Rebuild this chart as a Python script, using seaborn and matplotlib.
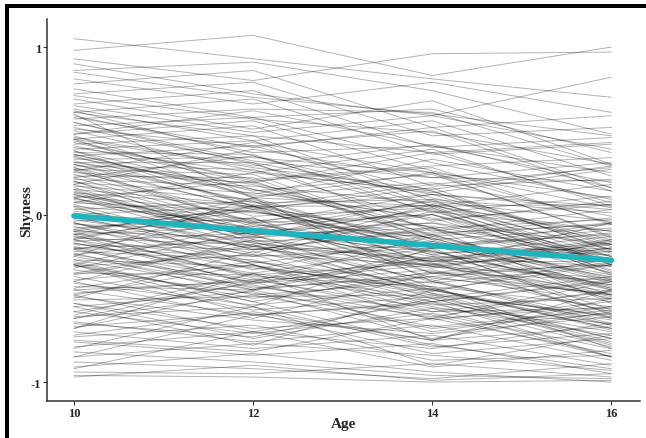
import numpy as np
import pandas as pd
import matplotlib
matplotlib.use("Agg")
import matplotlib.pyplot as plt
from matplotlib.patches import Rectangle
import seaborn as sns

ages = [10, 12, 14, 16]
y_ticks = [-1, 0, 1]
x_ticks = [10, 12, 14, 16]

# Shyness of each participant at age 10, 12, 14, 16 (same index = same person)
s10 = [1.05, 0.98, 0.93, 0.90, 0.86, 0.81, 0.78, 0.75, 0.72, 0.69,
       0.66, 0.63, 0.61, 0.59, 0.57, 0.55, 0.53, 0.51, 0.50, 0.48,
       0.46, 0.45, 0.43, 0.42, 0.41, 0.39, 0.38, 0.37, 0.36, 0.35,
       0.34, 0.33, 0.32, 0.31, 0.30, 0.29, 0.28, 0.27, 0.26, 0.25,
       0.24, 0.23, 0.22, 0.21, 0.20, 0.19, 0.18, 0.17, 0.16, 0.15,
       0.14, 0.13, 0.12, 0.11, 0.10, 0.09, 0.08, 0.07, 0.06, 0.05,
       0.04, 0.03, 0.02, 0.01, 0.00, -0.01, -0.02, -0.03, -0.04, -0.05,
       -0.06, -0.07, -0.08, -0.09, -0.10, -0.11, -0.12, -0.13, -0.14, -0.15,
       -0.16, -0.17, -0.18, -0.19, -0.20, -0.21, -0.22, -0.23, -0.24, -0.25,
       -0.27, -0.29, -0.31, -0.33, -0.35, -0.37, -0.39, -0.41, -0.43, -0.45,
       -0.47, -0.49, -0.51, -0.53, -0.55, -0.58, -0.61, -0.64, -0.67, -0.70,
       -0.73, -0.76, -0.79, -0.82, -0.85, -0.88, -0.91, -0.94, -0.97, -0.96,
       0.52, -0.32, 0.18, -0.58, 0.44, -0.12, 0.27, -0.40, 0.61, -0.21,
       0.07, -0.48, 0.36, -0.65, 0.15, -0.27, 0.48, -0.05, 0.71, -0.36,
       0.22, -0.17, 0.58, -0.44, 0.10, -0.72, 0.31, -0.09, 0.40, -0.53,
       -0.02, 0.26, -0.30, 0.65, -0.14, 0.12, -0.62, 0.45, -0.24, 0.85,
       0.55, 0.38, 0.20, 0.62, 0.05, 0.30, -0.10, 0.47, -0.28, 0.13,
       -0.60, -0.85, -0.40, -0.30, -0.75, -0.15, -0.50, -0.92, -0.20, -0.68,
       -0.05, -0.62, -0.20, -0.48, -0.80, -0.12, -0.35, -0.55, -0.30, -0.15,
       0.35, -0.25, 0.60, 0.10, -0.45, 0.28, -0.10, 0.45, -0.30, -0.68]

s12 = [0.93, 1.07, 0.80, 0.72, 0.91, 0.66, 0.86, 0.58, 0.79, 0.51,
       0.74, 0.44, 0.69, 0.37, 0.63, 0.32, 0.58, 0.41, 0.26, 0.56,
       0.29, 0.53, 0.21, 0.47, 0.19, 0.44, 0.14, 0.36, 0.11, 0.41,
       0.15, 0.34, 0.07, 0.31, 0.03, 0.27, 0.04, 0.24, -0.01, 0.19,
       -0.04, 0.22, -0.07, 0.17, -0.09, 0.13, -0.11, 0.09, -0.14, 0.06,
       -0.12, 0.05, -0.16, 0.01, -0.19, -0.03, -0.08, 0.02, -0.21, -0.05,
       -0.21, 0.08, -0.12, -0.17, 0.05, -0.25, -0.04, -0.19, 0.02, -0.28,
       -0.09, -0.33, -0.02, -0.24, -0.14, -0.37, -0.07, -0.29, -0.18, -0.41,
       -0.11, -0.35, -0.21, -0.44, -0.16, -0.39, -0.27, -0.48, -0.13, -0.43,
       -0.31, -0.52, -0.24, -0.47, -0.36, -0.57, -0.30, -0.54, -0.45, -0.60,
       -0.39, -0.63, -0.49, -0.68, -0.46, -0.71, -0.55, -0.76, -0.59, -0.80,
       -0.66, -0.84, -0.70, -0.88, -0.77, -0.92, -0.83, -0.95, -0.90, -0.97,
       0.31, -0.10, 0.39, -0.41, 0.20, 0.10, -0.06, -0.62, 0.47, -0.02,
       0.25, -0.30, 0.12, -0.73, -0.17, -0.45, 0.62, -0.23, 0.57, -0.19,
       0.35, -0.36, 0.40, -0.28, -0.13, -0.58, 0.18, 0.04, 0.25, -0.74,
       -0.20, 0.43, -0.50, 0.49, 0.03, -0.09, -0.48, 0.28, -0.40, 0.70,
       0.30, 0.05, -0.15, 0.35, -0.30, 0.08, -0.38, 0.15, -0.52, -0.12,
       -0.35, -0.60, -0.15, -0.05, -0.82, 0.05, -0.22, -0.70, -0.25, -0.45,
       -0.30, -0.40, -0.45, -0.70, -0.55, -0.42, -0.18, -0.78, -0.60, -0.32,
       0.05, 0.10, 0.10, 0.20, -0.40, -0.05, 0.05, 0.10, -0.55, -0.35]

s14 = [0.81, 0.83, 0.96, 0.59, 0.74, 0.79, 0.52, 0.63, 0.47, 0.68,
       0.40, 0.56, 0.36, 0.41, 0.61, 0.22, 0.31, 0.50, 0.13, 0.26,
       0.42, 0.17, 0.29, 0.08, 0.37, 0.05, 0.24, 0.01, 0.19, 0.14,
       -0.03, 0.25, 0.09, -0.10, 0.16, -0.04, 0.12, -0.13, 0.04, -0.08,
       0.06, -0.15, 0.00, 0.07, -0.18, -0.02, -0.11, -0.20, -0.05, -0.16,
       -0.08, -0.23, -0.12, -0.07, -0.26, -0.14, -0.28, -0.17, -0.19, -0.31,
       -0.09, -0.24, 0.03, -0.31, -0.14, -0.20, -0.35, 0.00, -0.18, -0.41,
       -0.27, -0.12, -0.38, -0.30, 0.04, -0.43, -0.25, -0.16, -0.46, -0.33,
       -0.22, -0.50, -0.08, -0.37, -0.47, -0.26, -0.54, -0.40, -0.31, -0.58,
       -0.45, -0.34, -0.52, -0.61, -0.29, -0.49, -0.63, -0.44, -0.67, -0.53,
       -0.56, -0.71, -0.48, -0.62, -0.74, -0.59, -0.79, -0.66, -0.83, -0.72,
       -0.87, -0.77, -0.91, -0.96, -0.84, -0.98, -0.94, -0.89, -0.99, -1.00,
       0.12, -0.05, 0.22, -0.27, 0.28, -0.20, -0.19, -0.35, 0.37, -0.44,
       0.14, -0.58, 0.33, -0.50, -0.28, -0.21, 0.41, 0.06, 0.49, -0.39,
       0.05, -0.52, 0.52, -0.47, 0.09, -0.75, -0.12, -0.29, 0.39, -0.56,
       -0.32, 0.25, -0.37, 0.59, -0.24, 0.08, -0.68, 0.15, -0.13, 0.60,
       0.02, -0.22, -0.40, 0.10, -0.55, -0.30, -0.60, -0.08, -0.78, -0.45,
       -0.20, -0.52, -0.28, 0.12, -0.62, 0.18, -0.45, -0.80, 0.02, -0.35,
       -0.48, -0.70, -0.25, -0.52, -0.90, -0.62, -0.50, -0.45, -0.75, -0.43,
       0.05, -0.40, 0.25, -0.15, -0.30, 0.00, -0.35, 0.05, -0.20, -0.75]

s16 = [0.70, 1.00, 0.97, 0.82, 0.48, 0.61, 0.59, 0.37, 0.52, 0.30,
       0.46, 0.23, 0.42, 0.19, 0.29, 0.31, 0.09, 0.14, 0.27, 0.04,
       0.16, 0.21, 0.34, -0.04, 0.07, 0.18, -0.13, 0.11, -0.01, -0.18,
       0.06, -0.14, 0.01, 0.03, -0.22, 0.08, -0.19, -0.05, -0.27, -0.03,
       -0.21, -0.08, -0.29, -0.16, -0.12, -0.33, -0.06, -0.24, -0.18, -0.36,
       -0.31, -0.20, -0.39, -0.25, -0.17, -0.41, -0.28, -0.43, -0.22, -0.46,
       -0.27, -0.13, -0.34, -0.20, -0.44, -0.09, -0.39, -0.25, -0.51, -0.30,
       -0.15, -0.40, -0.47, -0.22, -0.36, -0.55, -0.31, -0.48, -0.26, -0.58,
       -0.44, -0.37, -0.53, -0.29, -0.61, -0.42, -0.50, -0.66, -0.38, -0.56,
       -0.63, -0.48, -0.70, -0.45, -0.59, -0.74, -0.52, -0.68, -0.57, -0.79,
       -0.65, -0.61, -0.76, -0.83, -0.58, -0.80, -0.71, -0.87, -0.74, -0.90,
       -0.84, -0.95, -0.81, -0.98, -0.93, -0.89, -1.00, -0.97, -0.95, -0.99,
       0.03, -0.27, 0.20, -0.48, -0.06, -0.11, -0.37, -0.30, 0.43, -0.69,
       -0.21, -0.46, 0.14, -0.77, -0.16, -0.57, 0.25, -0.25, 0.30, -0.65,
       0.06, -0.39, 0.16, -0.74, -0.30, -0.67, -0.02, -0.49, 0.05, -0.85,
       -0.17, -0.05, -0.52, 0.39, -0.42, -0.23, -0.59, 0.29, -0.38, 0.47,
       -0.28, -0.45, -0.62, -0.15, -0.72, -0.50, -0.85, -0.35, -0.92, -0.66,
       -0.05, -0.40, -0.18, 0.05, -0.55, 0.28, -0.30, -0.65, -0.10, -0.48,
       -0.60, -0.55, -0.62, -0.85, -0.72, -0.40, -0.78, -0.68, -0.50, -0.80,
       -0.10, -0.15, 0.10, -0.45, -0.05, -0.35, -0.20, -0.30, -0.60, -0.45]

waves = [s10, s12, s14, s16]
n = len(s10)
df = pd.DataFrame({
    "id": np.tile(np.arange(n), len(ages)),
    "Age": np.repeat(ages, n),
    "Shyness": np.concatenate(waves),
})

sns.set_theme(style="white")
plt.rcParams["font.family"] = ["Liberation Serif", "DejaVu Serif"]

fig = plt.figure(figsize=(6.46, 4.39), dpi=100)
ax = fig.add_axes([0.0728, 0.0843, 0.918, 0.870])

sns.lineplot(data=df, x="Age", y="Shyness", units="id", estimator=None,
             color="black", alpha=0.3, linewidth=0.7, ax=ax, legend=False)
sns.regplot(data=df, x="Age", y="Shyness", scatter=False, ci=None,
            color="#1fb3be", line_kws={"linewidth": 4.0}, ax=ax)

ax.set_xlim(9.70, 16.32)
ax.set_ylim(-1.113, 1.167)
ax.set_xticks(x_ticks)
ax.set_yticks(y_ticks)
ax.set_xticklabels([str(t) for t in x_ticks], fontsize=9, fontweight="bold")
ax.set_yticklabels([str(t) for t in y_ticks], fontsize=9, fontweight="bold")
ax.set_xlabel("Age", fontsize=11, fontweight="bold")
ax.xaxis.set_label_coords(0.5, -0.043)
ax.set_ylabel("Shyness", fontsize=11, fontweight="bold")
ax.yaxis.set_label_coords(-0.024, 0.5)
for side in ["top", "right"]:
    ax.spines[side].set_visible(False)
for side in ["left", "bottom"]:
    ax.spines[side].set_color("#333333")
    ax.spines[side].set_linewidth(1.1)
ax.tick_params(axis="both", direction="out", length=3, width=0.8,
               color="#333333", pad=1, left=True, bottom=True)

# black frame fragments at the top and left of the figure
fig.add_artist(Rectangle((5 / 646, 1 - 9 / 439), 1.0, 4 / 439,
                         transform=fig.transFigure, color="black", lw=0))
fig.add_artist(Rectangle((5 / 646, 0), 4 / 646, 1 - 5 / 439,
                         transform=fig.transFigure, color="black", lw=0))

fig.savefig("out.png", dpi=100)
